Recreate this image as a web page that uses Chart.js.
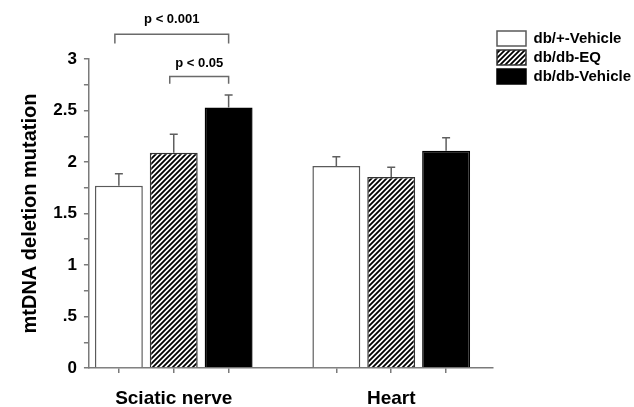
<!DOCTYPE html>
<html>
<head>
<meta charset="utf-8">
<title>mtDNA deletion mutation</title>
<script src="https://cdn.jsdelivr.net/npm/chart.js@4.4.0/dist/chart.umd.min.js"></script>
<style>
  html, body { margin: 0; padding: 0; background: #fff; }
  #wrap { width: 634px; height: 407px; position: relative; }
</style>
</head>
<body>
<div id="wrap"><canvas id="chart"></canvas></div>
<script>
// values
const categories = ['Sciatic nerve', 'Heart'];
const seriesNames = ['db/+-Vehicle', 'db/db-EQ', 'db/db-Vehicle'];
const controlVehicle = [1.77, 1.96];
const diabeticEQ = [2.09, 1.855];
const diabeticVehicle = [2.53, 2.11];
const controlVehicleErr = [0.115, 0.09];
const diabeticEQErr = [0.18, 0.095];
const diabeticVehicleErr = [0.12, 0.125];
const yTickLabels = ['0', '.5', '1', '1.5', '2', '2.5', '3'];
const comparisons = [
    { text: 'p < 0.001', from: 0, to: 2, category: 0 },
    { text: 'p < 0.05', from: 1, to: 2, category: 0 }
];

// where the brackets sit, in axis units
const bracketLayout = [
    { top: 3.24, drop: 0.09, label: 3.38 },
    { top: 2.83, drop: 0.07, label: 2.96 }
];

const FONT = '"Liberation Sans", Arial, sans-serif';
const AXIS = '#7a7a7a';
const catPct = 0.757;
const pitch = catPct / seriesNames.length;

Chart.defaults.font.family = FONT;

const canvas = document.getElementById('chart');
const ctx = canvas.getContext('2d');

const makeHatch = () => {
    const size = 5;
    const tile = document.createElement('canvas');
    tile.width = size;
    tile.height = size;
    const g = tile.getContext('2d');
    g.fillStyle = '#fff';
    g.fillRect(0, 0, size, size);
    g.strokeStyle = '#000';
    g.lineWidth = 1.8;
    g.beginPath();
    g.moveTo(-1, size + 1); g.lineTo(size + 1, -1);
    g.moveTo(-1, 1); g.lineTo(1, -1);
    g.moveTo(size - 1, size + 1); g.lineTo(size + 1, size - 1);
    g.stroke();
    return ctx.createPattern(tile, 'repeat');
};

const toPoints = (values) => values.map((v, i) => ({ x: i, y: v }));

const errorBars = {
    id: 'errorBars',
    afterDatasetsDraw(chart) {
        const { ctx, scales: { y } } = chart;
        ctx.save();
        ctx.strokeStyle = '#5f5f5f';
        ctx.lineWidth = 1.5;
        chart.data.datasets.forEach((ds, di) => {
            chart.getDatasetMeta(di).data.forEach((bar, i) => {
                const top = y.getPixelForValue(ds.data[i].y + ds.errors[i]);
                ctx.beginPath();
                ctx.moveTo(bar.x, bar.y);
                ctx.lineTo(bar.x, top);
                ctx.moveTo(bar.x - 4, top);
                ctx.lineTo(bar.x + 4, top);
                ctx.stroke();
            });
        });
        ctx.restore();
    }
};

const brackets = {
    id: 'brackets',
    afterDraw(chart) {
        const { ctx, scales: { y } } = chart;
        ctx.save();
        ctx.strokeStyle = '#6a6a6a';
        ctx.lineWidth = 1.5;
        ctx.fillStyle = '#000';
        ctx.font = 'bold 13px ' + FONT;
        ctx.textAlign = 'center';
        ctx.textBaseline = 'middle';
        comparisons.forEach((c, k) => {
            const a = chart.getDatasetMeta(c.from).data[c.category];
            const b = chart.getDatasetMeta(c.to).data[c.category];
            const lay = bracketLayout[k];
            const yTop = y.getPixelForValue(lay.top);
            const yLeg = y.getPixelForValue(lay.top - lay.drop);
            const x1 = a.x - 4;
            const x2 = b.x;
            ctx.beginPath();
            ctx.moveTo(x1, yLeg);
            ctx.lineTo(x1, yTop);
            ctx.lineTo(x2, yTop);
            ctx.lineTo(x2, yLeg);
            ctx.stroke();
            ctx.fillText(c.text, (x1 + x2) / 2, y.getPixelForValue(lay.label));
        });
        ctx.restore();
    }
};

const xMin = -0.39;
const xMax = 1.468;

new Chart(ctx, {
    type: 'bar',
    data: {
        datasets: [
            {
                label: seriesNames[0],
                data: toPoints(controlVehicle),
                errors: controlVehicleErr,
                backgroundColor: '#fff',
                borderColor: '#5a5a5a',
                borderWidth: 1.5,
                xAxisID: 'x'
            },
            {
                label: seriesNames[1],
                data: toPoints(diabeticEQ),
                errors: diabeticEQErr,
                backgroundColor: makeHatch(),
                borderColor: '#333',
                borderWidth: 1.5,
                xAxisID: 'x'
            },
            {
                label: seriesNames[2],
                data: toPoints(diabeticVehicle),
                errors: diabeticVehicleErr,
                backgroundColor: '#000',
                borderColor: '#000',
                borderWidth: 1.5,
                xAxisID: 'x'
            }
        ]
    },
    options: {
        responsive: true,
        maintainAspectRatio: false,
        animation: false,
        layout: { padding: { top: 27, right: 0, bottom: 0, left: 14.5 } },
        datasets: { bar: { categoryPercentage: catPct, barPercentage: 0.873 } },
        plugins: {
            tooltip: { enabled: false },
            legend: {
                position: 'right',
                align: 'start',
                maxWidth: 141,
                labels: {
                    boxWidth: 29,
                    boxHeight: 15,
                    padding: 4,
                    color: '#000',
                    font: { size: 15, weight: 'bold' }
                }
            }
        },
        scales: {
            x: {
                type: 'linear',
                position: 'bottom',
                weight: 1,
                min: xMin,
                max: xMax,
                offset: false,
                grid: { offset: false, drawOnChartArea: false, drawTicks: false },
                border: { display: false },
                ticks: {
                    padding: 16,
                    autoSkip: false,
                    maxRotation: 0,
                    color: '#000',
                    font: { size: 19, weight: 'bold', lineHeight: 1 },
                    callback: (v) => Number.isInteger(v) ? categories[v] : ''
                },
                afterBuildTicks: (s) => {
                    s.ticks = categories.map((_, i) => ({ value: i }));
                },
                afterFit: (s) => {
                    s.height = 34;
                }
            },
            x2: {
                type: 'linear',
                position: 'bottom',
                weight: 0,
                min: xMin,
                max: xMax,
                offset: false,
                grid: { offset: false, drawOnChartArea: false, tickLength: 5, color: AXIS, lineWidth: 1.5 },
                border: { color: AXIS, width: 1.5 },
                ticks: { display: false },
                afterBuildTicks: (s) => {
                    s.ticks = categories.flatMap((_, i) => [i - pitch, i, i + pitch].map(v => ({ value: v })));
                }
            },
            y: {
                min: 0,
                max: 3,
                grid: { drawOnChartArea: false, tickLength: 5, color: AXIS, lineWidth: 1.5 },
                border: { color: AXIS, width: 1.5 },
                ticks: {
                    padding: 7,
                    autoSkip: false,
                    color: '#000',
                    font: { size: 17, weight: 'bold' },
                    callback: (v) => {
                        const k = Math.round(v / 0.25);
                        return k % 2 === 0 ? yTickLabels[k / 2] : '';
                    }
                },
                title: {
                    display: true,
                    text: 'mtDNA deletion mutation',
                    color: '#000',
                    font: { size: 20, weight: 'bold' },
                    padding: { top: 4, bottom: 3.8 }
                },
                afterBuildTicks: (s) => {
                    const ticks = [];
                    for (let k = 0; k <= (yTickLabels.length - 1) * 2; k++) {
                        ticks.push({ value: k * 0.25 });
                    }
                    s.ticks = ticks;
                },
                afterFit: (s) => {
                    s.paddingTop = 59;
                }
            }
        }
    },
    plugins: [errorBars, brackets]
});
</script>
</body>
</html>
